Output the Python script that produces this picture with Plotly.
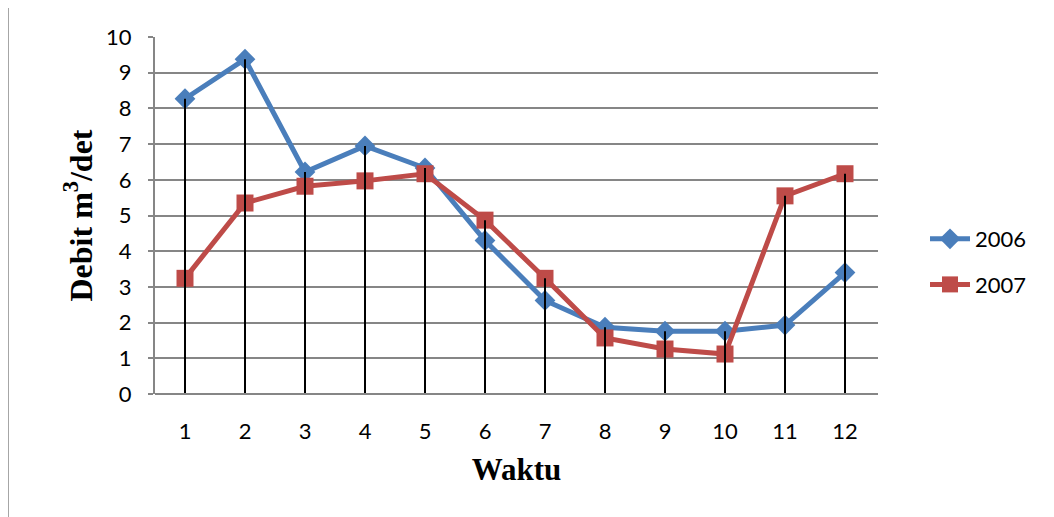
import plotly.graph_objects as go

# Data
bulan = [1, 2, 3, 4, 5, 6, 7, 8, 9, 10, 11, 12]
debit_2006 = [8.27, 9.38, 6.22, 6.95, 6.33, 4.30, 2.62, 1.87, 1.76, 1.76, 1.93, 3.40]
debit_2007 = [3.24, 5.35, 5.82, 5.97, 6.17, 4.87, 3.24, 1.57, 1.26, 1.12, 5.55, 6.17]
series_names = ["2006", "2007"]
y_ticks = [0, 1, 2, 3, 4, 5, 6, 7, 8, 9, 10]

BLUE = "#4A7EBB"
RED = "#BE4B48"
GRID = "#868686"

fig = go.Figure()

fig.add_trace(go.Scatter(
    x=bulan, y=debit_2006, name=series_names[0], mode="lines+markers",
    legendgroup="a",
    line=dict(color=BLUE, width=5),
    marker=dict(symbol="diamond", size=16, color=BLUE),
))
fig.add_trace(go.Scatter(
    x=bulan, y=debit_2007, name=series_names[1], mode="lines+markers",
    legendgroup="b",
    line=dict(color=RED, width=5),
    marker=dict(symbol="square", size=17, color=RED),
))

# Drop lines from the highest value of each category down to 0
drop_x, drop_y = [], []
for xv, a, b in zip(bulan, debit_2006, debit_2007):
    drop_x += [xv, xv, None]
    drop_y += [0, max(a, b), None]
fig.add_trace(go.Scatter(
    x=drop_x, y=drop_y, mode="lines", showlegend=False, hoverinfo="skip",
    line=dict(color="black", width=2),
))

L, T, PW, PH = 147, 29, 723, 357
W, H = 1046, 509

def px_x(p):  # reference pixel -> paper x
    return (p - 8 - L) / PW

def px_y(p):  # reference pixel -> paper y
    return (T + PH - (p - 8)) / PH

fig.update_layout(
    width=W, height=H,
    margin=dict(l=L, r=W - L - PW, t=T, b=H - T - PH),
    paper_bgcolor="white", plot_bgcolor="white",
    font=dict(family="Lato, 'Open Sans', sans-serif", size=22, color="black"),
    showlegend=True,
    legend=dict(
        x=px_x(925), y=px_y(262), xanchor="left", yanchor="middle",
        font=dict(size=22, family="Lato, sans-serif"),
        traceorder="grouped", tracegroupgap=14, itemwidth=40,
        bgcolor="rgba(0,0,0,0)",
    ),
    xaxis=dict(
        range=[0.5, 12.55], tickmode="array", tickvals=bulan,
        ticktext=[str(b) for b in bulan],
        showgrid=False, zeroline=False, showline=False,
        ticks="", ticklabelstandoff=22,
        title=dict(text="Waktu", font=dict(family="'Liberation Serif', 'Times New Roman', serif", size=31, weight="bold"), standoff=15),
    ),
    yaxis=dict(
        range=[0, 10], tickmode="array", tickvals=y_ticks,
        showgrid=True, gridcolor=GRID, gridwidth=2,
        zeroline=False, showline=True, linecolor=GRID, linewidth=2,
        ticks="outside", ticklen=5, tickcolor=GRID, tickwidth=2,
        ticklabelstandoff=12,
        title=dict(text="Debit m<sup>3</sup>/det", font=dict(family="'Liberation Serif', 'Times New Roman', serif", size=32, weight="bold"), standoff=4),
    ),
    shapes=[
        dict(type="line", xref="paper", yref="paper",
             x0=0, x1=1, y0=0, y1=0, line=dict(color=GRID, width=2)),
        dict(type="rect", xref="paper", yref="paper",
             x0=px_x(8), x1=px_x(1080),
             y0=px_y(540), y1=px_y(5),
             line=dict(color="#A6A6A6", width=2), fillcolor="rgba(0,0,0,0)"),
    ],
)

fig.write_html("out.html")
